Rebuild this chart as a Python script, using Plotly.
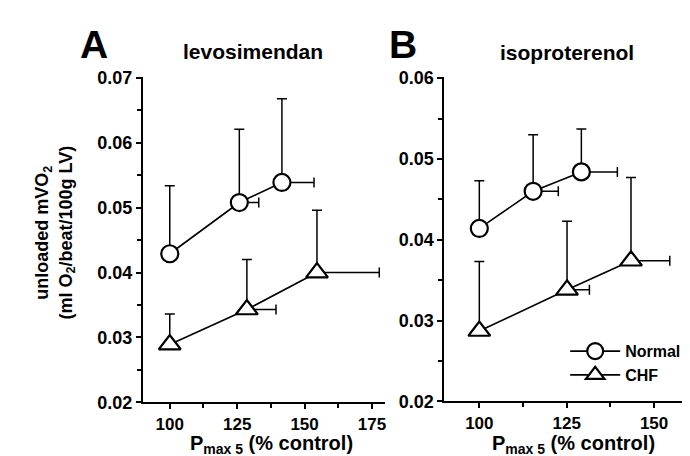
import plotly.graph_objects as go

# ---- data ----
# Panel A: levosimendan
a_norm_x = [100, 125.8, 141.6]
a_norm_y = [0.0429, 0.0508, 0.0539]
a_norm_yup = [0.0534, 0.0621, 0.0668]
a_norm_xup = [100, 133.0, 153.5]

a_chf_x = [100, 128.6, 154.6]
a_chf_y = [0.0289, 0.0343, 0.0400]
a_chf_yup = [0.0336, 0.0420, 0.0496]
a_chf_xup = [100, 139.4, 177.7]

# Panel B: isoproterenol
b_norm_x = [100, 115.4, 129.2]
b_norm_y = [0.0414, 0.0460, 0.0484]
b_norm_yup = [0.0473, 0.0530, 0.0537]
b_norm_xup = [100, 122.6, 139.5]

b_chf_x = [100, 125.1, 143.4]
b_chf_y = [0.0287, 0.0338, 0.0374]
b_chf_yup = [0.0373, 0.0423, 0.0477]
b_chf_xup = [100, 131.5, 154.5]

series_names = ["Normal", "CHF"]

FONT = "Liberation Sans, Arial, sans-serif"

fig = go.Figure()


def add(x, y, yup, xup, name, symbol, xa, ya, show):
    fig.add_trace(go.Scatter(
        x=x, y=y, mode="lines+markers", name=name,
        xaxis=xa, yaxis=ya, showlegend=show,
        line=dict(color="black", width=1.6),
        marker=dict(symbol=symbol, size=17 if symbol == "circle" else 19,
                    color="white", line=dict(color="black", width=2.2)),
        error_y=dict(type="data", symmetric=False,
                     array=[u - v for u, v in zip(yup, y)],
                     arrayminus=[0] * len(y),
                     color="black", thickness=1.5, width=5),
        error_x=dict(type="data", symmetric=False,
                     array=[u - v for u, v in zip(xup, x)],
                     arrayminus=[0] * len(x),
                     color="black", thickness=1.5, width=5),
    ))


add(a_norm_x, a_norm_y, a_norm_yup, a_norm_xup, series_names[0], "circle", "x", "y", False)
add(a_chf_x, a_chf_y, a_chf_yup, a_chf_xup, series_names[1], "triangle-up", "x", "y", False)
add(b_norm_x, b_norm_y, b_norm_yup, b_norm_xup, series_names[0], "circle", "x2", "y2", True)
add(b_chf_x, b_chf_y, b_chf_yup, b_chf_xup, series_names[1], "triangle-up", "x2", "y2", True)

W, H = 690, 456

def px(v):
    return v / W

def py(v):
    return 1 - v / H

axis_common = dict(showline=True, linecolor="black", linewidth=2,
                   ticks="outside", ticklen=5, tickwidth=1.5, tickcolor="black",
                   showgrid=False, zeroline=False, mirror=False)
yfont = dict(family=FONT, size=18, color="black", weight="bold")
xfont = dict(family=FONT, size=17, color="black", weight="bold")

xminor = dict(ticks="outside", ticklen=4, tickwidth=1.5, tickcolor="black",
              dtick=12.5, showgrid=False)
yminor = dict(ticks="outside", ticklen=4, tickwidth=1.5, tickcolor="black",
              dtick=0.005, showgrid=False)

fig.update_layout(
    width=W, height=H, margin=dict(l=0, r=0, t=0, b=0),
    paper_bgcolor="white", plot_bgcolor="white",
    xaxis=dict(domain=[px(135), px(378)], range=[90, 180], anchor="y",
               tickmode="linear", tick0=100, dtick=25, minor=xminor,
               tickfont=xfont, **axis_common),
    yaxis=dict(domain=[py(402), py(63)], range=[0.02, 0.0701], anchor="x",
               tickmode="linear", tick0=0.02, dtick=0.01, tickformat=".2f",
               minor=yminor, tickfont=yfont, **axis_common),
    xaxis2=dict(domain=[px(437), px(682)], range=[90, 160], anchor="y2",
                tickmode="linear", tick0=100, dtick=25, minor=xminor,
                tickfont=xfont, **axis_common),
    yaxis2=dict(domain=[py(401), py(63)], range=[0.02, 0.0601], anchor="x2",
                tickmode="linear", tick0=0.02, dtick=0.01, tickformat=".2f",
                minor=yminor, tickfont=yfont, **axis_common),
    legend=dict(x=px(558), y=py(331), xanchor="left", yanchor="top",
                bgcolor="rgba(0,0,0,0)", itemwidth=50, tracegroupgap=0,
                font=dict(family=FONT, size=16, color="black", weight="bold")),
)

ann = [
    dict(text="<b>A</b>", x=px(86), y=py(29), size=39),
    dict(text="<b>levosimendan</b>", x=px(245), y=py(36), size=21),
    dict(text="<b>B</b>", x=px(396), y=py(29), size=39),
    dict(text="<b>isoproterenol</b>", x=px(560), y=py(37), size=21),
]
for a in ann:
    fig.add_annotation(text=a["text"], x=a["x"], y=a["y"], xref="paper", yref="paper",
                       showarrow=False, xanchor="center", yanchor="middle",
                       font=dict(family=FONT, size=a["size"], color="black"))

# x-axis titles
for cx in (264, 566):
    fig.add_annotation(text="<b>P<sub>max 5</sub> (% control)</b>",
                       x=px(cx), y=0, xref="paper", yref="paper", showarrow=False,
                       xanchor="center", yanchor="bottom", yshift=-5,
                       font=dict(family=FONT, size=20, color="black"))

fig.add_annotation(text="<b>unloaded mVO<sub>2</sub></b><br><b>(ml O<sub>2</sub>/beat/100g LV)</b>",
                   x=px(47), y=py(225), xref="paper", yref="paper", showarrow=False,
                   textangle=-90, xanchor="center", yanchor="middle",
                   font=dict(family=FONT, size=18, color="black"))

fig.write_html("out.html")
